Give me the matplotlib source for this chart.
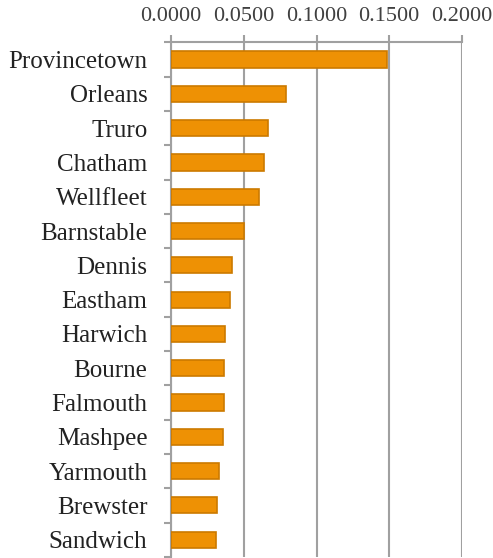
import matplotlib.pyplot as plt
from matplotlib.ticker import FormatStrFormatter

towns = ["Provincetown", "Orleans", "Truro", "Chatham", "Wellfleet", "Barnstable",
         "Dennis", "Eastham", "Harwich", "Bourne", "Falmouth", "Mashpee",
         "Yarmouth", "Brewster", "Sandwich"]
values = [0.1484, 0.0787, 0.0667, 0.0639, 0.0604, 0.0500,
          0.0417, 0.0405, 0.0371, 0.0364, 0.0364, 0.0355,
          0.0329, 0.0313, 0.0306]
x_ticks = [0.0, 0.05, 0.10, 0.15, 0.20]

plt.rcParams['font.family'] = ['Liberation Serif', 'DejaVu Serif']

fig = plt.figure(figsize=(4.93, 5.58), dpi=100)
ax = fig.add_axes([0.347, 0.002, 0.590, 0.922])

pos = list(range(len(towns)))
ax.barh(pos, values, height=0.47, color='#EE9104', edgecolor='#CC7A00', linewidth=1.2, zorder=3)

ax.set_ylim(len(towns) - 0.5, -0.5)
ax.set_xlim(0, 0.2)
ax.set_yticks(pos)
ax.set_yticklabels(towns)
ax.set_yticks([p + 0.5 for p in range(-1, len(towns))], minor=True)
ax.tick_params(axis='y', which='major', length=0, labelsize=18, labelcolor='#222222', pad=17)
ax.tick_params(axis='y', which='minor', length=5, width=1.5, color='#A0A0A0')

ax.xaxis.tick_top()
ax.set_xticks(x_ticks)
ax.xaxis.set_major_formatter(FormatStrFormatter('%.4f'))
ax.tick_params(axis='x', length=5, width=1.5, color='#A0A0A0', labelsize=16, labelcolor='#404040', pad=7)
ax.grid(axis='x', color='#A0A0A0', linewidth=1.5, zorder=0)

for side in ['right', 'bottom']:
    ax.spines[side].set_visible(False)
for side in ['left', 'top']:
    ax.spines[side].set_color('#A0A0A0')
    ax.spines[side].set_linewidth(1.5)

fig.savefig('out.png', dpi=100)
